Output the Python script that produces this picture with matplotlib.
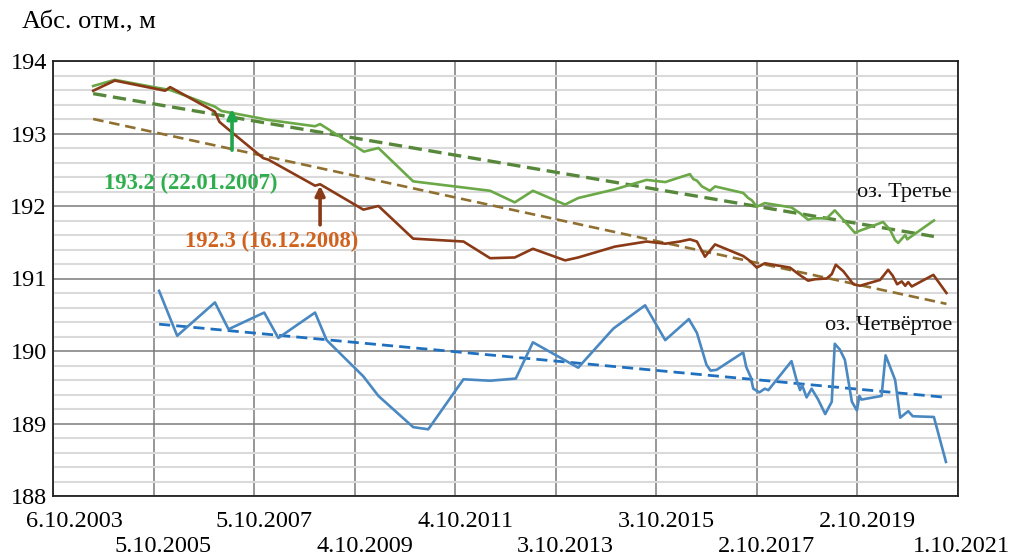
import matplotlib
matplotlib.use("Agg")
import matplotlib.pyplot as plt
from matplotlib.transforms import ScaledTranslation
import numpy as np

plt.rcParams['font.family'] = ['Liberation Serif', 'DejaVu Serif']

# ---------------- data (decimal years, metres a.s.l.) ----------------
green_years = [2004.56, 2004.99, 2005.76, 2006.09, 2006.98, 2007.11, 2007.88, 2008.01,
               2008.97, 2009.07, 2009.94, 2010.23, 2010.92, 2012.45, 2012.94, 2013.30,
               2013.94, 2014.20, 2014.93, 2015.56, 2015.93, 2016.42, 2016.49, 2016.56,
               2016.66, 2016.82, 2016.92, 2017.48, 2017.58, 2017.65, 2017.75, 2017.91,
               2018.44, 2018.61, 2018.77, 2018.87, 2019.14, 2019.30, 2019.47, 2019.70,
               2019.80, 2020.00, 2020.26, 2020.40, 2020.50, 2020.56, 2020.70, 2020.74,
               2020.86, 2021.27]
green_vals = [193.655, 193.74, 193.64, 193.60, 193.37, 193.31, 193.21, 193.19,
              193.10, 193.13, 192.75, 192.80, 192.34, 192.21, 192.05, 192.21,
              192.02, 192.11, 192.23, 192.36, 192.33, 192.44, 192.37, 192.35,
              192.27, 192.21, 192.27, 192.18, 192.11, 192.08, 191.99, 192.04,
              191.98, 191.90, 191.81, 191.83, 191.83, 191.94, 191.81, 191.63,
              191.66, 191.71, 191.78, 191.67, 191.53, 191.49, 191.60, 191.54,
              191.60, 191.80]

brown_years = [2004.56, 2004.99, 2005.99, 2006.09, 2006.98, 2007.07, 2007.31, 2007.94,
               2008.04, 2008.97, 2009.07, 2009.93, 2010.23, 2010.92, 2011.92, 2012.45,
               2012.94, 2013.30, 2013.94, 2014.20, 2014.93, 2015.56, 2015.93, 2016.22,
               2016.42, 2016.56, 2016.72, 2016.92, 2017.48, 2017.60, 2017.75, 2017.91,
               2018.41, 2018.58, 2018.77, 2018.91, 2019.14, 2019.24, 2019.32, 2019.47,
               2019.67, 2019.80, 2020.20, 2020.36, 2020.45, 2020.54, 2020.63, 2020.70,
               2020.76, 2020.83, 2021.26, 2021.52]
brown_vals = [193.59, 193.73, 193.59, 193.64, 193.30, 193.16, 193.02, 192.66,
              192.64, 192.28, 192.30, 191.95, 192.00, 191.55, 191.51, 191.28,
              191.29, 191.41, 191.25, 191.29, 191.44, 191.51, 191.48, 191.51,
              191.54, 191.51, 191.30, 191.47, 191.31, 191.25, 191.15, 191.21,
              191.15, 191.06, 190.97, 190.99, 191.00, 191.06, 191.19, 191.10,
              190.92, 190.90, 190.98, 191.12, 191.04, 190.92, 190.96, 190.90,
              190.95, 190.89, 191.05, 190.80]

blue_years = [2005.87, 2006.23, 2006.98, 2007.25, 2007.96, 2008.24, 2008.97, 2009.20,
              2009.93, 2010.23, 2010.92, 2011.22, 2011.92, 2012.45, 2012.96, 2013.30,
              2014.20, 2014.90, 2015.53, 2015.93, 2016.40, 2016.56, 2016.75, 2016.83,
              2016.95, 2017.48, 2017.54, 2017.63, 2017.68, 2017.80, 2017.91, 2017.98,
              2018.44, 2018.54, 2018.61, 2018.65, 2018.74, 2018.84, 2018.97, 2019.11,
              2019.24, 2019.30, 2019.40, 2019.50, 2019.64, 2019.74, 2019.79, 2019.83,
              2020.23, 2020.31, 2020.50, 2020.60, 2020.76, 2020.85, 2021.27, 2021.51]
blue_vals = [190.83, 190.21, 190.67, 190.30, 190.53, 190.18, 190.53, 190.15,
             189.65, 189.38, 188.95, 188.92, 189.61, 189.59, 189.62, 190.12,
             189.77, 190.31, 190.63, 190.15, 190.44, 190.25, 189.81, 189.73,
             189.74, 189.98, 189.78, 189.64, 189.48, 189.43, 189.48, 189.46,
             189.86, 189.60, 189.46, 189.53, 189.36, 189.48, 189.33, 189.13,
             189.30, 190.10, 190.02, 189.88, 189.30, 189.18, 189.38, 189.33,
             189.38, 189.94, 189.60, 189.08, 189.17, 189.10, 189.09, 188.47]

# linear trend end points
green_trend_years = [2004.56, 2021.27]
green_trend_vals = [193.55, 191.58]
brown_trend_years = [2004.56, 2021.52]
brown_trend_vals = [193.20, 190.65]
blue_trend_years = [2005.87, 2021.52]
blue_trend_vals = [190.37, 189.36]

tick_labels = ['6.10.2003', '5.10.2005', '5.10.2007', '4.10.2009', '4.10.2011',
               '3.10.2013', '3.10.2015', '2.10.2017', '2.10.2019', '1.10.2021']
ytick_vals = [188, 189, 190, 191, 192, 193, 194]

ann_green_text = '193.2 (22.01.2007)'
ann_brown_text = '192.3 (16.12.2008)'
ann_green_arrow = (2007.32, 193.34, 192.77)   # year, tip, tail
ann_brown_arrow = (2009.07, 192.28, 191.74)

# ---------------- helpers ----------------
START = 2003.7616  # 6.10.2003


def to_days(years):
    return (np.asarray(years) - START) * 365.25


fig = plt.figure(figsize=(10.09, 5.59), dpi=100)
ax = fig.add_axes([53 / 1009, 1 - 496 / 559, 905 / 1009, 435 / 559])

ax.set_xlim(0, 6570)
ax.set_ylim(188, 194)

# grid
ax.set_yticks(ytick_vals)
ax.set_yticks(np.arange(188, 194.01, 0.2), minor=True)
ax.set_xticks(np.arange(0, 6571, 730))
ax.yaxis.grid(True, which='minor', color='#dadada', lw=1.5, zorder=0)
ax.yaxis.grid(True, which='major', color='#7a7a7a', lw=1.1, zorder=0)
ax.xaxis.grid(True, which='major', color='#7a7a7a', lw=1.1, zorder=0)
ax.set_axisbelow(True)
for s in ax.spines.values():
    s.set_color('#222222')
    s.set_linewidth(1.3)

ax.tick_params(axis='both', which='both', length=0)
ax.tick_params(axis='y', pad=4.5, labelsize=17.5)
ax.tick_params(axis='x', labelsize=17.5)
ax.set_yticklabels([str(v) for v in ytick_vals])
ax.set_xticklabels(tick_labels)

ticks = ax.xaxis.get_major_ticks()
for i, t in enumerate(ticks):
    t.set_pad(10.5 if i % 2 == 0 else 28.5)
offsets = [21] + [10] * 8 + [3]
for lab, dx in zip(ax.get_xticklabels(), offsets):
    lab.set_transform(lab.get_transform() + ScaledTranslation(dx / 100, 0, fig.dpi_scale_trans))

# trends
ax.plot(to_days(green_trend_years), green_trend_vals, color='#56873A', lw=2.4,
        dashes=(4, 2), zorder=3)
ax.plot(to_days(brown_trend_years), brown_trend_vals, color='#8F7030', lw=1.9,
        dashes=(4, 2.2), zorder=3)
ax.plot(to_days(blue_trend_years), blue_trend_vals, color='#1F70BF', lw=2.0,
        dashes=(4, 2.2), zorder=3)

# series
ax.plot(to_days(green_years), green_vals, color='#6BA847', lw=1.9, zorder=4)
ax.plot(to_days(brown_years), brown_vals, color='#8A3A16', lw=1.9, zorder=5)
ax.plot(to_days(blue_years), blue_vals, color='#4A88C2', lw=1.9, zorder=4)

# arrows
for (yr, tip, tail), col in [(ann_green_arrow, '#1FA64A'), (ann_brown_arrow, '#8A3A16')]:
    d = to_days([yr])[0]
    ax.annotate('', xy=(d, tip), xytext=(d, tail),
                arrowprops=dict(arrowstyle='-|>', color=col, lw=2.6,
                                mutation_scale=14, shrinkA=0, shrinkB=0), zorder=6)

ax.text(0.1525, 0.7195, ann_green_text, transform=ax.transAxes, ha='center', va='center',
        color='#2EAE4C', fontsize=16.3, fontweight='bold')
ax.text(0.242, 0.586, ann_brown_text, transform=ax.transAxes, ha='center', va='center',
        color='#D0621F', fontsize=16.3, fontweight='bold')

ax.text(0.9934, 0.697, 'оз. Третье', transform=ax.transAxes, ha='right', va='center',
        fontsize=16, color='#111111')
ax.text(0.9934, 0.393, 'оз. Четвёртое', transform=ax.transAxes, ha='right', va='center',
        fontsize=16, color='#111111')

fig.text(22 / 1009, 1 - 22 / 559, 'Абс. отм., м', ha='left', va='center', fontsize=19)

fig.savefig('out.png', dpi=100)
